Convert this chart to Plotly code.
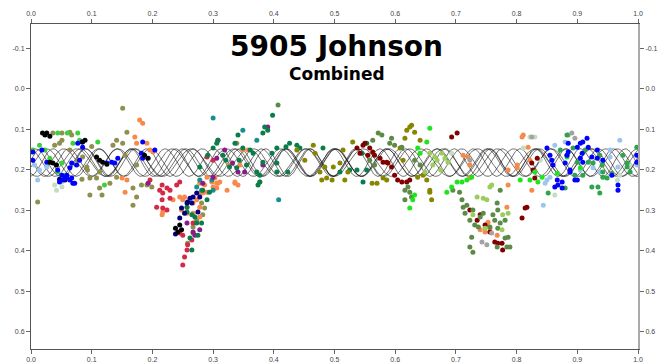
import numpy as np
import plotly.graph_objects as go

# ---- Lightcurve data: (phase, reduced magnitude) per observing session ----
sess_black = [(.019,.109),(.023,.114),(.026,.109),(.031,.117),(.085,.131),(.089,.127),
              (.031,.181),(.036,.183),(.042,.188),(.108,.168),(.113,.176),(.118,.181),
              (.125,.186),(.187,.164),(.193,.171),(.238,.344),(.242,.353),(.245,.336),(.248,.348)]
sess_khaki = [(.036,.109),(.051,.109),(.064,.107),(.067,.114),(.047,.134),(.039,.139),(.085,.168),
              (.092,.193),(.093,.200),(.084,.223),(.097,.220),(.108,.220),(.113,.205),(.135,.139),
              (.151,.134),(.158,.107),(.151,.048),(.141,.127),(.155,.164),(.174,.188),(.141,.218),
              (.130,.233),(.113,.245),(.097,.262),(.117,.262),(.011,.279),(.182,.237),(.191,.237),
              (.199,.242),(.168,.245),(.174,.267),(.168,.287),(.281,.282),(.286,.294),(.273,.324),
              (.267,.341),(.267,.356),(.258,.381),(.283,.311),(.339,.134),(.377,.230),(.064,.151),
              (.077,.176),(.100,.142),(.051,.127)]
sess_green = [(.044,.109),(.060,.109),(.077,.109),(.003,.151),(.031,.171),(.051,.183),(.044,.205),
              (.110,.131),(.121,.237),(.069,.134),(.080,.127),(.014,.139),(.023,.151),(.056,.213)]
sess_blue = [(.003,.156),(.003,.176),(.018,.151),(.026,.181),(.044,.200),(.051,.213),(.059,.213),
             (.064,.195),(.067,.183),(.067,.220),(.072,.233),(.052,.225),(.077,.134),(.085,.144),
             (.084,.131),(.125,.183),(.133,.181),(.138,.183),(.182,.159),(.184,.171),(.184,.131),
             (.204,.151),(.069,.233),(.059,.220),(.047,.230),(.056,.218),(.064,.225),(.075,.188),
             (.080,.176),(.143,.171),
             (.850,.146),(.858,.176),(.860,.188),(.867,.225),(.868,.237),(.875,.230),(.875,.245),
             (.880,.183),(.885,.156),(.888,.200),(.896,.225),(.900,.144),(.905,.134),(.909,.131),
             (.916,.122),(.918,.144),(.908,.159),(.924,.168),(.967,.237),(.967,.250),(.998,.181),
             (.885,.134),(.905,.171),(.855,.164),(.863,.242),(.933,.151),(.933,.171),(.909,.181),
             (.900,.225),(.888,.205),(.883,.164),(.998,.164),(.942,.176),(.957,.213)]
sess_navy = [(.047,.223),(.056,.225),(.262,.270),(.267,.267),(.273,.257),(.257,.282),(.253,.307),
             (.265,.282),(.258,.279),(.248,.294),(.275,.304),(.245,.319),(.278,.267),(.238,.358)]
sess_ltblue = [(.006,.188),(.011,.225),(.014,.200),(.026,.193),(.844,.287),(.855,.218),(.847,.233),
               (.880,.131),(.905,.200),(.926,.195),(.937,.205),(.954,.151),(.998,.188),(.863,.139),
               (.954,.168),(.967,.193),(.850,.225),(.970,.127)]
sess_palegreen = [(.039,.237),(.042,.250),(.051,.242),(.051,.230),(.693,.159),(.822,.119),(.830,.119),
                  (.811,.146),(.863,.262),(.966,.225),(.970,.213),(.987,.188),(.839,.176)]
sess_orange = [(.184,.085),(.179,.077),(.171,.119),(.174,.134),(.191,.134),(.150,.220),(.158,.225),
               (.155,.255),(.196,.151),(.201,.156),(.234,.274),(.245,.267),(.250,.274),(.257,.292),
               (.217,.304),(.248,.299),(.257,.307),(.278,.257),(.290,.255),(.267,.282),(.278,.292),
               (.300,.242),(.306,.233),(.278,.233),(.286,.237),(.298,.230),(.308,.233),(.323,.250),
               (.336,.233),(.341,.237),(.306,.245),(.253,.267),(.273,.274),(.267,.307),(.278,.316),
               (.290,.218),(.303,.220),(.311,.230),(.336,.230),(.344,.188),(.349,.151),(.357,.151),
               (.283,.257),(.327,.188),(.216,.311),
               (.712,.164),(.720,.168),(.723,.188),(.723,.220),(.811,.114),(.819,.144),(.801,.188),
               (.822,.176),(.801,.195),(.786,.237),(.784,.292),(.753,.329),(.751,.336),(.756,.344),
               (.748,.353),(.768,.361),(.825,.250),(.809,.119),(.786,.200),(.740,.348)]
sess_crimson = [(.196,.225),(.212,.250),(.217,.257),(.216,.274),(.207,.292),(.217,.294),(.224,.299),
                (.229,.250),(.240,.237),(.245,.230),(.216,.237),(.224,.245),(.267,.331),(.250,.361),
                (.245,.356),(.265,.373),(.258,.385),(.257,.398),(.253,.415),(.250,.435),(.290,.168),
                (.300,.176),(.229,.270)]
sess_purple = [(.257,.331),(.267,.353),(.278,.348),(.283,.233),(.390,.094),(.306,.171),(.332,.183),
               (.341,.205),(.352,.205),(.382,.188),(.308,.127),(.270,.361),(.319,.151),(.193,.233),
               (.300,.218)]
sess_teal = [(.300,.072),(.349,.102),(.372,.127),(.408,.274),(.298,.225),(.278,.225),(.300,.250),
             (.273,.242),(.281,.250)]
sess_dkgreen = [(.283,.250),(.290,.274),(.265,.311),(.273,.331),(.294,.255),(.257,.292),(.257,.304),
                (.270,.316),(.281,.331),(.275,.361),(.262,.368),(.265,.398),(.374,.237),(.377,.230),
                (.398,.065),(.385,.094),(.390,.102),(.341,.114),(.308,.127),(.306,.134),(.300,.146),
                (.336,.134),(.349,.146),(.366,.159),(.382,.181),(.372,.205),(.377,.213),(.405,.205),
                (.423,.205),(.426,.134),(.438,.139),(.443,.146),(.405,.146),(.397,.159),(.355,.188),
                (.339,.195),(.327,.193),(.316,.164),(.291,.164),(.278,.193),(.405,.183),(.481,.146),
                (.509,.205),(.525,.200),(.537,.200),(.545,.159),(.553,.134),(.553,.200),(.547,.230),
                (.382,.109),(.321,.176),(.361,.151),(.343,.176),(.420,.143)]
sess_olive = [(.465,.139),(.468,.159),(.476,.205),(.479,.225),(.487,.220),(.496,.225),(.484,.193),
              (.498,.193),(.509,.183),(.514,.151),(.530,.131),(.522,.205),(.517,.225),(.562,.233),
              (.570,.233),(.580,.220),(.586,.225),(.619,.102),(.624,.094),(.632,.107),(.608,.146),
              (.616,.122),(.613,.176),(.657,.250),(.660,.274),(.627,.090),(.637,.218),(.646,.213),
              (.652,.225),(.657,.255),(.641,.127),(.438,.151),(.451,.176)]
sess_dkred = [(.537,.146),(.547,.139),(.550,.134),(.542,.159),(.558,.146),(.563,.156),(.566,.164),
              (.575,.171),(.555,.164),(.586,.181),(.580,.181),(.588,.183),(.594,.193),(.604,.225),
              (.611,.230),(.619,.230),(.624,.225),(.599,.213),(.702,.109),(.693,.119),(.723,.299),
              (.735,.324),(.740,.311),(.764,.378),(.776,.381),(.777,.398),(.769,.381),(.817,.292),
              (.814,.294),(.809,.319),(.834,.171),(.827,.200),(.825,.183),(.830,.220),(.748,.336),
              (.756,.353)]
sess_midgreen = [(.572,.109),(.578,.114),(.563,.127),(.591,.134),(.594,.122),(.599,.139),(.611,.144),
                 (.566,.188),(.558,.176),(.616,.250),(.624,.255),(.621,.242),(.616,.274),(.627,.267),
                 (.407,.040),(.695,.250),(.706,.255),(.710,.274),(.712,.292),(.718,.287),(.715,.307),
                 (.723,.324),(.728,.299),(.731,.336),(.737,.341),(.740,.316),(.745,.307),(.761,.311),
                 (.764,.324),(.768,.282),(.769,.299),(.773,.331),(.781,.324),(.786,.366),(.789,.390),
                 (.784,.390),(.781,.368),(.769,.344),(.756,.341),(.726,.366),(.728,.403),(.723,.390),
                 (.768,.390),(.632,.176),(.641,.188),(.773,.250)]
sess_ygreen = [(.677,.159),(.682,.171),(.665,.168),(.687,.181),(.735,.267),(.745,.270),(.751,.274),
               (.756,.242),(.759,.237),(.728,.311),(.748,.344),(.776,.348),(.777,.311),(.786,.307),
               (.662,.188),(.669,.176),(.657,.159),(.675,.200),(.649,.205)]
sess_lime = [(.657,.097),(.641,.159),(.652,.131),(.629,.274),(.624,.294),(.632,.262),(.693,.242),
             (.702,.230),(.710,.230),(.718,.225),(.726,.218),(.806,.225),(.822,.225),(.830,.205),
             (.842,.218),(.835,.230),(.867,.208),(.883,.168),(.905,.195),(.637,.146),(.685,.255)]
sess_gray = [(.723,.176),(.743,.378),(.751,.385),(.759,.356),(.825,.119),(.891,.109),(.885,.114),
             (.896,.122)]
sess_seagreen = [(.883,.164),(.893,.146),(.900,.181),(.918,.181),(.926,.183),(.937,.164),(.941,.188),
                 (.942,.205),(.949,.220),(.957,.208),(.934,.242),(.924,.242),(.896,.213),(.909,.213),
                 (.852,.257),(.880,.245),(.998,.144),(.982,.193),(.883,.114),(.937,.257),(.975,.164),
                 (.982,.183),(.987,.205),(.942,.218),(.872,.151),(.913,.151)]

sessions = [
    (sess_khaki, "#8f8f4f"), (sess_palegreen, "#c3dcc3"), (sess_ltblue, "#9fc5ef"),
    (sess_green, "#3ad13a"), (sess_orange, "#f7894a"), (sess_crimson, "#d42a48"),
    (sess_teal, "#178f8f"), (sess_purple, "#8b1a8b"), (sess_dkgreen, "#0b7d4b"),
    (sess_olive, "#868600"), (sess_dkred, "#800000"), (sess_midgreen, "#5b8b47"),
    (sess_ygreen, "#9acd5e"), (sess_lime, "#1ee61e"), (sess_gray, "#a3a3a3"),
    (sess_seagreen, "#2ea44c"), (sess_navy, "#000080"), (sess_blue, "#0000ff"),
    (sess_black, "#000000"),
]

# Fourier fit curves (one per session set): frequency in cycles/phase, phase offset
CURVE_FREQ = [10.6, 11.2, 11.7, 12.1, 12.6, 13.0, 13.5, 11.9]
CURVE_PHASE = [0.0, 3.1, 0.3, 2.9, 0.1, 3.3, 0.2, 3.0]
CURVE_MID = 0.182
CURVE_AMP = 0.034

X_TICKS = [round(0.1 * i, 1) for i in range(11)]
Y_TICKS = [-0.1, 0.0, 0.1, 0.2, 0.3, 0.4, 0.5, 0.6]
X_RANGE = [0.0, 1.0]
Y_RANGE = [0.642, -0.16]

fig = go.Figure()

ph = np.linspace(0, 1, 600)
for f, p in zip(CURVE_FREQ, CURVE_PHASE):
    fig.add_trace(go.Scatter(
        x=ph, y=CURVE_MID + CURVE_AMP * np.cos(2 * np.pi * f * (ph - 0.5) + p),
        mode="lines", line=dict(color="rgba(20,20,20,0.75)", width=0.8),
        hoverinfo="skip", showlegend=False))

for pts, col in sessions:
    fig.add_trace(go.Scatter(
        x=[a for a, b in pts], y=[b for a, b in pts], mode="markers",
        marker=dict(color=col, size=5, line=dict(width=0)), showlegend=False))

# carrier for the top/right axes
fig.add_trace(go.Scatter(x=[None], y=[None], xaxis="x2", yaxis="y2",
                         mode="markers", showlegend=False))

tick_font = dict(family="Liberation Sans, Arial, sans-serif", size=7, color="#444444")
xcommon = dict(range=X_RANGE, tickvals=X_TICKS, ticktext=[f"{v:.1f}" for v in X_TICKS],
               ticks="outside", ticklen=4, tickcolor="#666666", showgrid=False,
               zeroline=False, showline=True, linecolor="#555555", linewidth=1,
               tickfont=tick_font, automargin=False)
ycommon = dict(range=Y_RANGE, tickvals=Y_TICKS, ticktext=[f"{v:.1f}" for v in Y_TICKS],
               ticks="outside", ticklen=4, tickcolor="#666666", showgrid=False,
               zeroline=False, showline=True, linecolor="#555555", linewidth=1,
               tickfont=tick_font, automargin=False)

TOP, PLOT_H = 24, 325

fig.update_layout(
    width=660, height=362,
    margin=dict(l=31, r=22, t=TOP, b=13, autoexpand=False),
    paper_bgcolor="white", plot_bgcolor="white",
    xaxis=dict(**xcommon, side="bottom"),
    xaxis2=dict(**xcommon, side="top", overlaying="x", anchor="y"),
    yaxis=dict(**ycommon, side="left"),
    yaxis2=dict(**{**ycommon, "linecolor": "#aaaaaa", "linewidth": 2},
                side="right", overlaying="y", anchor="x"),
    annotations=[
        dict(text="<b>5905 Johnson</b>", x=0.504, y=1 - (46 - TOP) / PLOT_H,
             xref="paper", yref="paper", xanchor="center", yanchor="middle",
             showarrow=False, font=dict(family="DejaVu Sans", size=28, color="black")),
        dict(text="<b>Combined</b>", x=0.504, y=1 - (74 - TOP) / PLOT_H,
             xref="paper", yref="paper", xanchor="center", yanchor="middle",
             showarrow=False, font=dict(family="DejaVu Sans", size=17, color="black")),
    ],
)

fig.write_html("out.html")
